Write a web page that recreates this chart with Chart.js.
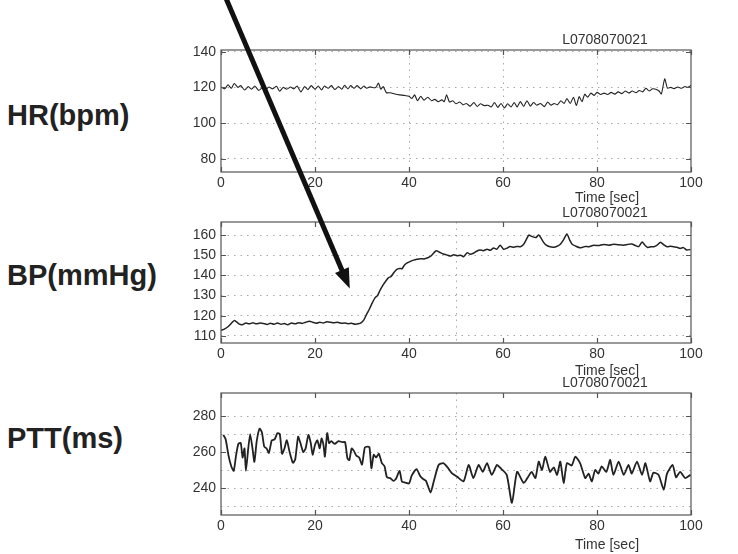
<!DOCTYPE html>
<html>
<head>
<meta charset="utf-8">
<script src="https://cdn.jsdelivr.net/npm/chart.js@4.4.0/dist/chart.umd.min.js"></script>
<style>
  body { margin: 0; background: #fff; width: 738px; height: 554px; overflow: hidden; position: relative; }
  canvas { position: absolute; }
  .lbl { position: absolute; left: 7px; font-family: "Liberation Sans", Arial, sans-serif; font-weight: bold; font-size: 29px; line-height: 1; color: #222; white-space: nowrap; }
</style>
</head>
<body>
<div class="lbl" style="top:101px">HR(bpm)</div>
<div class="lbl" style="top:261px">BP(mmHg)</div>
<div class="lbl" style="top:424px">PTT(ms)</div>
<canvas id="hr" width="558" height="175" style="left:180px;top:30px"></canvas>
<canvas id="bp" width="558" height="180" style="left:180px;top:200px"></canvas>
<canvas id="ptt" width="558" height="184" style="left:180px;top:370px"></canvas>
<canvas id="arrow" width="738" height="554" style="left:0;top:0;pointer-events:none"></canvas>
<script>
// record / axis text
var recordId = 'L0708070021';
var xTitle = 'Time [sec]';
var xTicks = [0, 20, 40, 60, 80, 100];

// heart rate (bpm)
var hrTime = [0, 0.8, 1.5, 2.2, 2.8, 3.6, 4.2, 5.0, 5.8, 6.5, 7.2, 8.0, 8.8, 9.5, 10.2, 11.0, 11.8, 12.5, 13.2, 14.0,
  14.8, 15.5, 16.2, 17.0, 17.8, 18.5, 19.2, 20.0, 20.7, 21.4, 22.0, 22.8, 23.5, 24.2, 25.0, 25.7, 26.3, 27.0, 27.6, 28.3,
  29.0, 29.7, 30.4, 31.0, 31.7, 32.4, 33.0, 33.5, 34.0, 34.5, 35.2, 36.0, 37.0, 38.0, 39.0, 40.0, 40.6, 41.2, 41.8, 42.5,
  43.2, 44.0, 44.8, 45.5, 46.2, 47.0, 47.5, 48.0, 48.6, 49.3, 50.0, 50.8, 51.5, 52.2, 53.0, 53.8, 54.5, 55.2, 56.0, 56.8,
  57.5, 58.2, 58.9, 59.6, 60.3, 61.0, 61.7, 62.4, 63.0, 63.7, 64.4, 65.1, 65.8, 66.5, 67.2, 68.0, 68.8, 69.5, 70.2, 70.9,
  71.6, 72.3, 73.0, 73.6, 74.3, 75.0, 75.6, 76.2, 76.8, 77.4, 78.0, 78.7, 79.4, 80.0, 80.8, 81.5, 82.3, 83.0, 83.8, 84.5,
  85.3, 86.0, 86.8, 87.5, 88.3, 89.0, 89.7, 90.4, 91.1, 91.8, 92.5, 93.2, 93.7, 94.4, 95.0, 95.7, 96.4, 97.2, 98.0, 98.7,
  99.3, 100];
var hrValue = [120.3, 119.2, 121.5, 119.5, 122.2, 120.0, 121.0, 118.5, 120.5, 119.0, 120.8, 118.3, 119.8, 118.8, 120.2, 119.2, 120.6, 117.8, 120.0, 119.0,
  120.2, 119.2, 120.8, 117.5, 120.5, 118.8, 121.0, 119.0, 120.8, 118.5, 120.8, 119.5, 121.0, 118.8, 120.5, 119.0, 121.2, 119.2, 121.0, 119.5,
  121.0, 119.2, 120.8, 119.5, 120.3, 119.8, 120.2, 122.5, 119.0, 120.5, 117.0, 117.0, 116.3, 115.8, 115.5, 115.0, 113.8, 115.8, 112.5, 115.0,
  112.8, 114.5, 112.5, 113.3, 112.0, 113.0, 112.0, 115.8, 111.8, 112.5, 110.8, 111.8, 110.2, 111.0, 109.5, 111.5, 109.3, 110.8, 109.8, 110.0,
  109.0, 111.5, 108.8, 111.0, 108.5, 110.8, 109.0, 111.5, 109.0, 112.0, 109.3, 112.5, 109.5, 111.5, 110.0, 111.0, 109.2, 111.8, 110.0, 111.0,
  110.2, 112.5, 111.0, 113.8, 111.0, 114.5, 109.8, 114.8, 112.0, 116.2, 114.5, 116.8, 115.5, 117.2, 116.0, 116.8, 116.0, 117.2, 116.2, 117.5,
  116.5, 118.0, 116.8, 118.0, 117.0, 118.3, 117.5, 119.5, 118.0, 119.2, 119.0, 118.0, 116.3, 124.8, 119.5, 120.0, 119.3, 120.2, 119.5, 120.5,
  120.0, 121.2];
var hrTicks = [80, 100, 120, 140];

// blood pressure (mmHg)
var bpTime = [0, 0.8, 1.6, 2.3, 2.8, 3.3, 3.8, 4.5, 5.3, 6.0, 6.8, 7.5, 8.3, 9.0, 9.8, 10.5, 11.3, 12.0, 12.8, 13.5,
  14.2, 15.0, 15.8, 16.5, 17.3, 18.0, 18.8, 19.5, 20.3, 21.0, 21.8, 22.5, 23.3, 24.0, 24.8, 25.5, 26.3, 27.0, 27.8, 28.5,
  29.2, 29.8, 30.4, 31.0, 31.6, 32.2, 32.8, 33.3, 33.8, 34.4, 35.0, 35.6, 36.2, 36.8, 37.4, 38.0, 38.5, 39.0, 39.6, 40.3,
  41.0, 41.7, 42.4, 43.2, 44.0, 44.6, 45.2, 45.8, 46.5, 47.3, 48.0, 48.8, 49.5, 50.2, 51.0, 51.6, 52.4, 53.0, 53.7, 54.4,
  55.1, 55.8, 56.6, 57.3, 58.0, 58.7, 59.4, 60.1, 60.8, 61.5, 62.3, 63.0, 63.7, 64.4, 65.0, 65.5, 66.0, 66.5, 67.0, 67.6,
  68.1, 68.6, 69.2, 70.0, 70.8, 71.5, 72.2, 72.9, 73.6, 74.2, 74.7, 75.5, 76.4, 77.0, 77.5, 78.3, 79.3, 80.3, 81.4, 82.5,
  83.5, 84.5, 85.7, 86.5, 87.4, 88.2, 88.9, 89.6, 90.2, 90.8, 91.5, 92.1, 92.8, 93.5, 94.2, 94.9, 95.6, 96.3, 97.0, 97.7,
  98.4, 99.1, 99.9];
var bpValue = [112.8, 113.5, 114.8, 116.5, 117.6, 117.0, 116.0, 115.6, 116.4, 116.0, 116.5, 116.0, 116.4, 116.2, 115.7, 116.3, 115.8, 116.4, 115.8, 116.2,
  115.5, 116.4, 116.0, 116.6, 116.2, 116.8, 117.3, 116.8, 116.3, 116.8, 116.4, 117.0, 116.8, 116.5, 116.8, 116.3, 116.4, 116.1, 116.3, 115.8,
  116.0, 116.5, 118.0, 120.8, 123.5, 126.5, 129.0, 130.0, 132.5, 135.0, 137.0, 138.8, 139.5, 141.5, 143.0, 143.5, 143.3, 145.0, 146.2, 147.0,
  147.6, 148.0, 148.3, 148.2, 148.8, 149.5, 151.0, 152.2, 151.5, 150.6, 150.2, 149.6, 150.2, 149.8, 150.0, 149.3, 151.3, 150.5, 151.0, 152.0,
  152.6, 152.3, 153.0, 152.5, 153.6, 153.0, 155.0, 153.0, 153.5, 154.3, 154.0, 154.4, 154.2, 155.5, 158.0, 160.0, 159.5, 159.0, 158.8, 160.0,
  158.5, 156.5, 155.0, 154.2, 154.0, 154.5, 155.5, 157.8, 160.6, 157.5, 155.5, 154.5, 153.7, 154.0, 154.4, 154.2, 155.0, 154.8, 155.4, 155.0,
  155.5, 155.2, 155.0, 155.4, 155.6, 154.8, 154.3, 156.6, 155.0, 153.9, 154.2, 154.2, 155.0, 156.5, 155.2, 154.2, 154.5, 154.2, 154.0, 153.4,
  153.8, 152.6, 152.9];
var bpTicks = [110, 120, 130, 140, 150, 160];

// pulse transit time (ms)
var pttTime = [0.5, 1.0, 1.6, 2.2, 2.7, 3.2, 3.7, 4.2, 4.6, 5.0, 5.3, 5.8, 6.2, 6.7, 7.1, 7.6, 8.2, 8.7, 9.2, 9.7,
  10.2, 10.8, 11.4, 12.0, 12.5, 13.0, 13.5, 14.0, 14.6, 15.3, 15.8, 16.4, 16.9, 17.5, 18.0, 18.6, 19.1, 19.5, 20.0, 20.5,
  21.0, 21.4, 21.8, 22.1, 22.6, 23.0, 23.5, 24.2, 25.0, 25.8, 26.4, 26.9, 27.3, 27.8, 28.3, 28.8, 29.4, 30.0, 30.6, 31.2,
  31.6, 32.0, 32.5, 33.0, 33.6, 34.2, 34.8, 35.3, 36.0, 36.7, 37.2, 38.0, 38.5, 39.2, 40.0, 40.6, 41.6, 42.4, 43.0, 43.6,
  44.6, 45.3, 46.3, 47.3, 48.2, 49.1, 50.2, 51.6, 52.7, 53.7, 54.8, 55.7, 56.6, 57.6, 58.7, 59.5, 60.8, 61.9, 63.0, 64.4,
  65.3, 66.1, 66.9, 67.6, 68.3, 69.0, 70.0, 70.8, 71.5, 72.2, 72.9, 73.6, 74.6, 75.4, 76.4, 77.5, 78.2, 78.9, 79.6, 80.3,
  81.0, 82.0, 82.8, 83.5, 84.6, 85.7, 86.7, 87.4, 88.5, 89.6, 90.3, 91.3, 92.0, 93.1, 94.2, 94.9, 96.1, 96.8, 97.7, 98.8,
  99.9];
var pttValue = [269.5, 267.0, 258.0, 252.0, 249.5, 258.0, 264.5, 265.0, 257.0, 262.0, 249.5, 262.0, 270.0, 262.0, 254.5, 266.0, 273.0, 271.0, 263.0, 262.0,
  259.5, 266.5, 267.0, 270.5, 270.0, 259.0, 262.0, 266.5, 260.0, 254.0, 256.0, 268.5, 265.0, 260.0, 262.0, 269.5, 265.0, 258.5, 264.0, 266.5,
  262.0, 267.5, 264.0, 257.5, 270.5, 265.0, 266.0, 264.5, 266.0, 265.5, 265.5, 256.5, 255.5, 262.0, 260.5, 258.0, 257.0, 253.0, 262.5, 263.0,
  262.5, 251.0, 258.5, 257.0, 259.0, 254.0, 252.0, 246.0, 245.5, 244.0, 245.0, 249.5, 243.5, 243.0, 242.5, 247.0, 250.5, 246.5, 245.0, 244.0,
  237.5, 244.0, 252.8, 253.8, 251.5, 248.3, 246.4, 243.7, 252.8, 245.5, 252.8, 249.0, 253.8, 247.3, 252.8, 251.0, 247.3, 231.7, 249.0, 242.8,
  246.0, 249.0, 245.5, 254.7, 250.0, 257.4, 249.0, 251.5, 247.3, 254.7, 242.8, 253.8, 252.5, 257.4, 253.8, 245.5, 248.0, 243.7, 250.0, 248.0,
  252.0, 249.0, 255.6, 247.3, 254.7, 247.3, 252.8, 248.0, 254.7, 247.3, 253.8, 243.7, 248.5, 247.3, 239.0, 248.0, 252.8, 246.0, 249.0, 245.5,
  247.3];
var pttTicks = [230, 240, 250, 260, 270, 280];
var pttLabels = [240, 260, 280];

// where the arrow points (time, mmHg)
var arrowTip = [27.4, 133.5];

var font = '"Liberation Sans", Arial, sans-serif';

function points(ts, vs) {
  return ts.map(function (t, i) { return { x: t, y: vs[i] }; });
}

var framePlugin = {
  id: 'frame',
  afterDraw: function (chart, args, opts) {
    var ctx = chart.ctx, a = chart.chartArea, x = chart.scales.x, y = chart.scales.y;
    ctx.save();
    ctx.strokeStyle = '#555';
    ctx.lineWidth = 1.2;
    ctx.strokeRect(a.left, a.top, a.width, a.height);
    ctx.beginPath();
    xTicks.forEach(function (v) {
      var px = Math.round(x.getPixelForValue(v)) + 0.5;
      ctx.moveTo(px, a.top); ctx.lineTo(px, a.top + 5);
      ctx.moveTo(px, a.bottom); ctx.lineTo(px, a.bottom - 5);
    });
    opts.yMarks.forEach(function (v) {
      var py = Math.round(y.getPixelForValue(v)) + 0.5;
      ctx.moveTo(a.left, py); ctx.lineTo(a.left + 5, py);
      ctx.moveTo(a.right, py); ctx.lineTo(a.right - 5, py);
    });
    ctx.stroke();
    ctx.fillStyle = '#333';
    ctx.font = '14px ' + font;
    ctx.textAlign = 'center';
    ctx.textBaseline = 'middle';
    ctx.fillText(recordId, a.right - 86, a.top - opts.idGap);
    ctx.fillText(xTitle, a.right - 84, a.bottom + opts.titleGap);
    ctx.restore();
  }
};

function makeChart(id, ts, vs, cfg) {
  return new Chart(document.getElementById(id), {
    type: 'line',
    data: {
      datasets: [{
        data: points(ts, vs),
        borderColor: '#222',
        borderWidth: cfg.width,
        pointRadius: 0,
        tension: 0.2,
        fill: false
      }]
    },
    options: {
      responsive: false,
      animation: false,
      devicePixelRatio: 1,
      layout: { padding: { top: cfg.top, right: 47, left: 0, bottom: 0 } },
      plugins: {
        legend: { display: false },
        tooltip: { enabled: false },
        frame: { yMarks: cfg.yMarks, idGap: cfg.idGap, titleGap: cfg.titleGap }
      },
      scales: {
        x: {
          type: 'linear',
          min: 0,
          max: 100,
          afterFit: function (s) { s.height = cfg.xHeight; },
          afterBuildTicks: function (s) {
            s.ticks = xTicks.concat([50]).sort(function (p, q) { return p - q; }).map(function (v) { return { value: v }; });
          },
          ticks: {
            padding: 3,
            color: '#333',
            font: { family: font, size: 14 },
            maxRotation: 0,
            autoSkip: false,
            callback: function (v) { return xTicks.indexOf(v) >= 0 ? v : ''; }
          },
          border: { display: false, dash: [1.5, 5] },
          grid: {
            drawTicks: false,
            lineWidth: 1,
            color: function (c) { return cfg.xGrid.indexOf(c.tick && c.tick.value) >= 0 ? '#a8a8a8' : 'transparent'; }
          }
        },
        y: {
          min: cfg.min,
          max: cfg.max,
          afterFit: function (s) { s.width = 41; },
          afterBuildTicks: function (s) {
            s.ticks = cfg.yGrid.map(function (v) { return { value: v }; });
          },
          ticks: {
            padding: 5,
            color: '#333',
            font: { family: font, size: 14 },
            autoSkip: false,
            callback: function (v) { return cfg.yMarks.indexOf(v) >= 0 ? v : ''; }
          },
          border: { display: false, dash: [1.5, 5] },
          grid: { drawTicks: false, lineWidth: 1, color: '#a8a8a8' }
        }
      }
    },
    plugins: [framePlugin]
  });
}

var hrChart = makeChart('hr', hrTime, hrValue, {
  width: 1.1, top: 20, xHeight: 33, min: 72.5, max: 141,
  yGrid: hrTicks, yMarks: hrTicks, xGrid: [20, 40, 60, 80], idGap: 10, titleGap: 26
});
var bpChart = makeChart('bp', bpTime, bpValue, {
  width: 1.5, top: 22, xHeight: 37, min: 106.5, max: 166.5,
  yGrid: bpTicks, yMarks: bpTicks, xGrid: [50], idGap: 9, titleGap: 28
});
var pttChart = makeChart('ptt', pttTime, pttValue, {
  width: 1.8, top: 23, xHeight: 39, min: 225, max: 292.8,
  yGrid: pttTicks, yMarks: pttLabels, xGrid: [50], idGap: 10, titleGap: 30
});

// arrow pointing at the start of the BP rise
(function () {
  var c = document.getElementById('arrow');
  var ctx = c.getContext('2d');
  var bpCanvas = document.getElementById('bp');
  var tx = bpChart.scales.x.getPixelForValue(arrowTip[0]) + bpCanvas.offsetLeft;
  var ty = bpChart.scales.y.getPixelForValue(arrowTip[1]) + bpCanvas.offsetTop;
  var sx = 225, sy = -4;
  var dx = tx - sx, dy = ty - sy, len = Math.sqrt(dx * dx + dy * dy);
  var ux = dx / len, uy = dy / len;
  var headLen = 20, headHalf = 7.5;
  var bx = tx - ux * headLen, by = ty - uy * headLen;
  ctx.strokeStyle = '#111';
  ctx.fillStyle = '#111';
  ctx.lineWidth = 5;
  ctx.beginPath();
  ctx.moveTo(sx, sy);
  ctx.lineTo(bx + ux * 2, by + uy * 2);
  ctx.stroke();
  ctx.beginPath();
  ctx.moveTo(tx, ty);
  ctx.lineTo(bx - uy * headHalf, by + ux * headHalf);
  ctx.lineTo(bx + uy * headHalf, by - ux * headHalf);
  ctx.closePath();
  ctx.fill();
})();
</script>
</body>
</html>
